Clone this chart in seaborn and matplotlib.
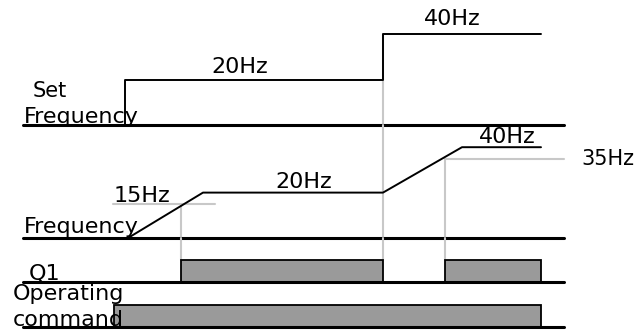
import matplotlib
matplotlib.use("Agg")
import matplotlib.pyplot as plt
import seaborn as sns

# time axis (same units across all channels)
t_span = [23, 564]

# set frequency command (time, Hz)
set_t = [125, 125, 383, 383, 541]
set_hz = [0, 20, 20, 40, 40]

# output frequency (time, Hz)
freq_t = [128, 203, 383, 462, 541]
freq_hz = [0, 20, 20, 40, 40]

# Q1 detect levels and output on-intervals
q1_low_hz = 15
q1_high_hz = 35
q1_on = [(181, 383), (445, 541)]

# operating command on-interval
run_on = [(114, 541)]

sns.set_style("white")
plt.rcParams['font.family'] = ['DejaVu Sans']
plt.rcParams['text.color'] = 'black'

W, H = 640, 334
PX_PER_HZ = 2.27
fig = plt.figure(figsize=(W / 100, H / 100), dpi=100)


def band(top, bottom):
    ax = fig.add_axes([0, 1 - bottom / H, 1, (bottom - top) / H])
    ax.set_xlim(0, W)
    ax.axis("off")
    return ax


def label(x, y, s, size=16):
    fig.text(x / W, 1 - y / H, s, fontsize=size, va="baseline", ha="left",
             color="black")


guide = dict(color="#c8c8c8", lw=1.5, clip_on=False, zorder=1)
trace = dict(color="black", lw=1.4, zorder=3)
base = dict(color="black", lw=2.2, clip_on=False, zorder=4)

# --- set frequency
ax1 = band(0, 125)
ax1.set_ylim(0, 125 / PX_PER_HZ)
ax1.plot([set_t[2], set_t[2]], [0, set_hz[3]], **guide)
sns.lineplot(x=set_t, y=set_hz, sort=False, estimator=None, ax=ax1, **trace)
ax1.plot(t_span, [0, 0], **base)
ax1.axis("off")

# --- output frequency
ax2 = band(125, 238)
ax2.set_ylim(0, 113 / PX_PER_HZ)
ax2.plot([q1_on[0][0]] * 2, [0, q1_low_hz], **guide)
ax2.plot([113, 215], [q1_low_hz] * 2, **guide)
ax2.plot([q1_on[1][0]] * 2, [0, q1_high_hz], **guide)
ax2.plot([q1_on[1][0], t_span[1]], [q1_high_hz] * 2, **guide)
ax2.plot([set_t[2]] * 2, [0, 113 / PX_PER_HZ], **guide)
sns.lineplot(x=freq_t, y=freq_hz, sort=False, estimator=None, ax=ax2, **trace)
ax2.plot(t_span, [0, 0], **base)
ax2.axis("off")

# --- Q1 output
ax3 = band(238, 282)
ax3.set_ylim(0, 2)
for x in [q1_on[0][0], set_t[2], q1_on[1][0]]:
    ax3.plot([x, x], [1, 2], **guide)
ax3.bar([a for a, b in q1_on], 1, width=[b - a for a, b in q1_on], align="edge",
        color="#9a9a9a", edgecolor="black", lw=1.3, zorder=2)
ax3.plot(t_span, [0, 0], **base)
ax3.axis("off")

# --- operating command
ax4 = band(282, 327)
ax4.set_ylim(0, 45 / 22)
ax4.bar([a for a, b in run_on], 1, width=[b - a for a, b in run_on], align="edge",
        color="#9a9a9a", edgecolor="black", lw=1.3, zorder=2)
ax4.plot(t_span, [0, 0], **base)
ax4.axis("off")

# labels
label(33, 97, "Set", 15)
label(24, 123, "Frequency")
label(211, 73, "20Hz")
label(424, 25, "40Hz")
label(114, 202, "15Hz")
label(275, 188, "20Hz")
label(479, 143, "40Hz")
label(581, 165, "35Hz", 15)
label(24, 233, "Frequency")
label(29, 280, "Q1")
label(13, 300, "Operating")
label(13, 326, "command")

fig.savefig("out.png", dpi=100)
